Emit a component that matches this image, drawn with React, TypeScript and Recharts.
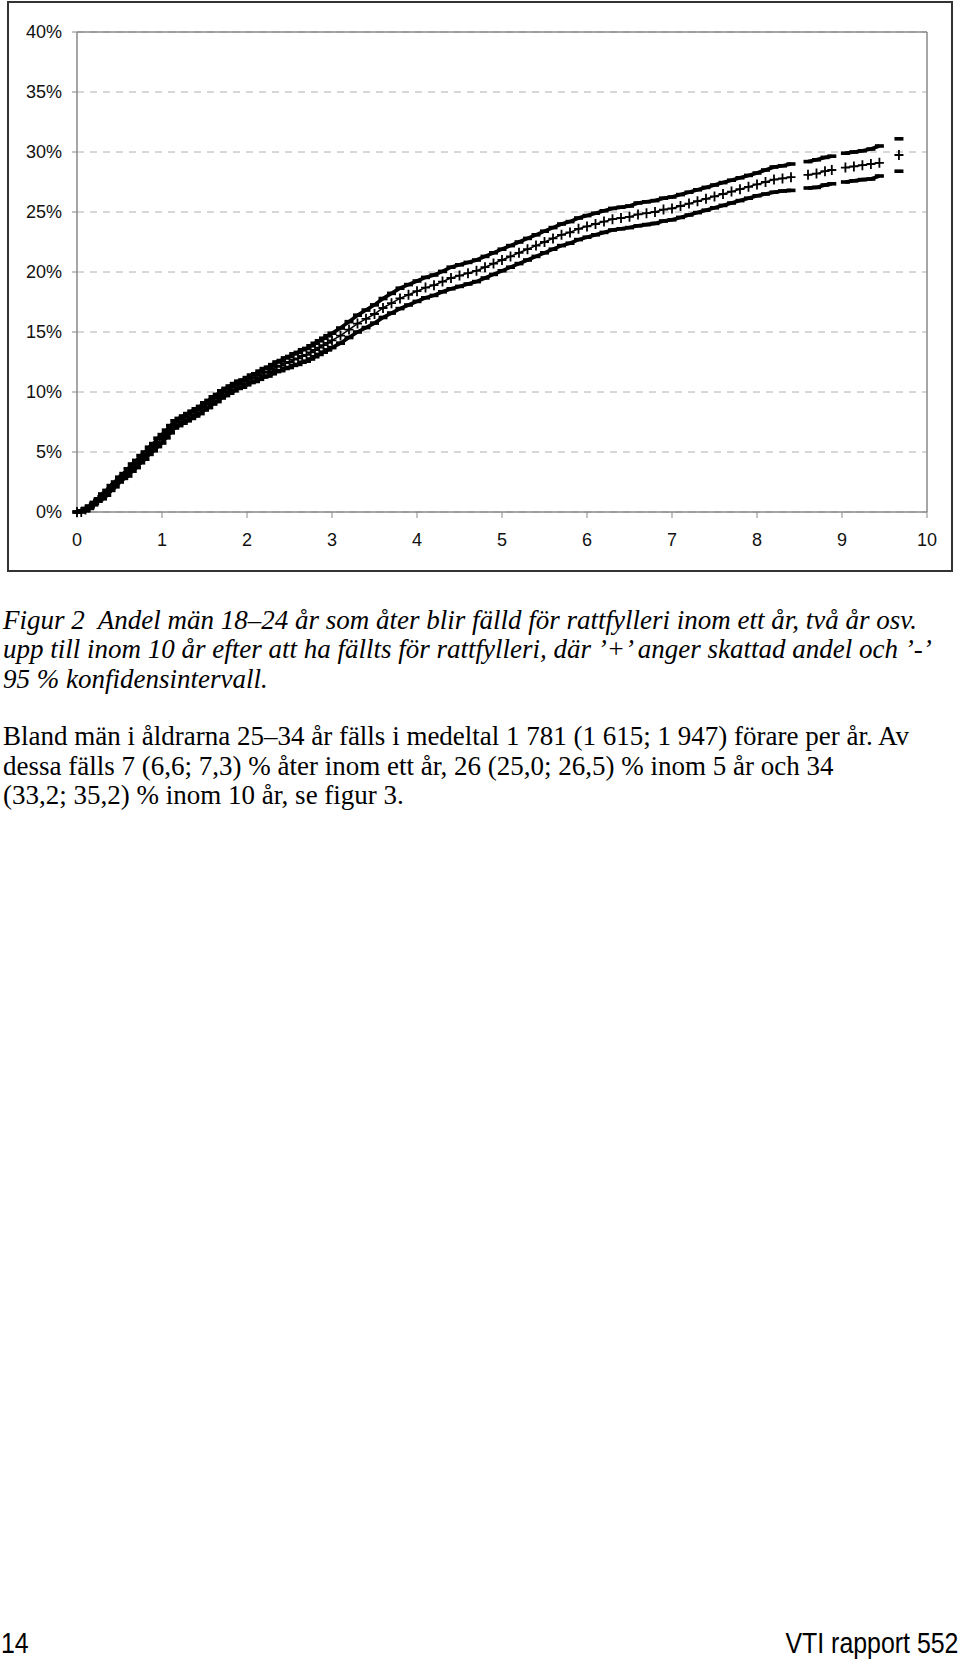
import React from "react";
import {
  ScatterChart,
  Scatter,
  XAxis,
  YAxis,
  CartesianGrid,
  ReferenceLine,
} from "recharts";

// Years since conviction (x values of the plotted points)
const years = [
  0, 0.05, 0.1, 0.15, 0.2, 0.25, 0.3, 0.35, 0.4, 0.45,
  0.5, 0.55, 0.6, 0.65, 0.7, 0.75, 0.8, 0.85, 0.9, 0.95,
  1, 1.05, 1.1, 1.15, 1.2, 1.25, 1.3, 1.35, 1.4, 1.45,
  1.5, 1.55, 1.6, 1.65, 1.7, 1.75, 1.8, 1.85, 1.9, 1.95,
  2, 2.05, 2.1, 2.15, 2.2, 2.25, 2.3, 2.35, 2.4, 2.45,
  2.5, 2.55, 2.6, 2.65, 2.7, 2.75, 2.8, 2.85, 2.9, 2.95,
  3,
  3.1, 3.2, 3.3, 3.4, 3.5, 3.6, 3.7, 3.8, 3.9, 4,
  4.1, 4.2, 4.3, 4.4, 4.5, 4.6, 4.7, 4.8, 4.9, 5,
  5.1, 5.2, 5.3, 5.4, 5.5, 5.6, 5.7, 5.8, 5.9, 6,
  6.1, 6.2, 6.3, 6.4, 6.5, 6.6, 6.7, 6.8, 6.9, 7,
  7.1, 7.2, 7.3, 7.4, 7.5, 7.6, 7.7, 7.8, 7.9, 8,
  8.1, 8.2, 8.3, 8.4,
  8.6, 8.7, 8.8, 8.88, 9.04, 9.14, 9.24, 9.34, 9.44, 9.67,
];

// Estimated share ('+')
const estimate = [
  0.0, 0.0, 0.002, 0.004, 0.007, 0.01, 0.013, 0.016, 0.02, 0.023,
  0.027, 0.03, 0.033, 0.037, 0.04, 0.044, 0.047, 0.051, 0.054, 0.058,
  0.061, 0.065, 0.069, 0.073, 0.075, 0.077, 0.079, 0.081, 0.083, 0.085,
  0.088, 0.09, 0.093, 0.095, 0.098, 0.1, 0.102, 0.104, 0.106, 0.107,
  0.109, 0.111, 0.112, 0.114, 0.116, 0.117, 0.119, 0.121, 0.122, 0.124,
  0.125, 0.127, 0.128, 0.13, 0.131, 0.133, 0.135, 0.137, 0.139, 0.141,
  0.143,
  0.147, 0.152, 0.157, 0.161, 0.165, 0.17, 0.174, 0.178, 0.181, 0.184,
  0.187, 0.189, 0.192, 0.195, 0.197, 0.199, 0.201, 0.204, 0.207, 0.21,
  0.213, 0.216, 0.219, 0.222, 0.225, 0.228, 0.231, 0.233, 0.236, 0.238,
  0.24, 0.242, 0.244, 0.245, 0.246, 0.248, 0.249, 0.25, 0.252, 0.253,
  0.255, 0.257, 0.259, 0.261, 0.263, 0.265, 0.267, 0.269, 0.271, 0.273,
  0.275, 0.277, 0.278, 0.279,
  0.281, 0.282, 0.284, 0.285, 0.287, 0.288, 0.289, 0.29, 0.291, 0.2975,
];

// Lower 95 % confidence bound ('-')
const lower = [
  0.0, 0.0, 0.001, 0.003, 0.006, 0.009, 0.011, 0.014, 0.018, 0.021,
  0.025, 0.028, 0.03, 0.034, 0.037, 0.041, 0.044, 0.048, 0.051, 0.0545,
  0.0575, 0.0618, 0.066, 0.07, 0.072, 0.074, 0.076, 0.078, 0.08, 0.082,
  0.085, 0.087, 0.09, 0.092, 0.095, 0.097, 0.099, 0.101, 0.103, 0.104,
  0.106, 0.1079, 0.1088, 0.1106, 0.1125, 0.1133, 0.1152, 0.117, 0.1178, 0.1196,
  0.1204, 0.1222, 0.123, 0.1248, 0.1257, 0.1275, 0.1294, 0.1313, 0.1332, 0.1351,
  0.137,
  0.1407, 0.1454, 0.15, 0.1537, 0.1574, 0.1621, 0.1658, 0.1695, 0.1725, 0.1755,
  0.1785, 0.1805, 0.1835, 0.186, 0.188, 0.19, 0.192, 0.195, 0.198, 0.201,
  0.204, 0.207, 0.21, 0.213, 0.216, 0.219, 0.222, 0.224, 0.227, 0.229,
  0.231, 0.233, 0.235, 0.236, 0.237, 0.2385, 0.2395, 0.2405, 0.2425, 0.2435,
  0.2455, 0.2475, 0.2495, 0.2515, 0.2535, 0.2555, 0.2575, 0.2595, 0.2615, 0.2635,
  0.265, 0.2665, 0.2675, 0.268,
  0.27, 0.2705, 0.2725, 0.2735, 0.275, 0.276, 0.277, 0.2775, 0.28, 0.284,
];

// Upper 95 % confidence bound ('-')
const upper = [
  0.0, 0.001, 0.003, 0.005, 0.008, 0.011, 0.015, 0.018, 0.022, 0.025,
  0.029, 0.032, 0.036, 0.04, 0.043, 0.047, 0.05, 0.054, 0.057, 0.0615,
  0.0645, 0.0682, 0.072, 0.076, 0.078, 0.08, 0.082, 0.084, 0.086, 0.088,
  0.091, 0.093, 0.096, 0.098, 0.101, 0.103, 0.105, 0.107, 0.109, 0.11,
  0.112, 0.1141, 0.1152, 0.1174, 0.1195, 0.1207, 0.1228, 0.125, 0.1262, 0.1284,
  0.1296, 0.1318, 0.133, 0.1352, 0.1363, 0.1385, 0.1406, 0.1427, 0.1448, 0.1469,
  0.149,
  0.1533, 0.1586, 0.164, 0.1683, 0.1726, 0.1779, 0.1822, 0.1865, 0.1895, 0.1925,
  0.1955, 0.1975, 0.2005, 0.204, 0.206, 0.208, 0.21, 0.213, 0.216, 0.219,
  0.222, 0.225, 0.228, 0.231, 0.234, 0.237, 0.24, 0.242, 0.245, 0.247,
  0.249, 0.251, 0.253, 0.254, 0.255, 0.2575, 0.2585, 0.2595, 0.2615, 0.2625,
  0.2645, 0.2665, 0.2685, 0.2705, 0.2725, 0.2745, 0.2765, 0.2785, 0.2805, 0.2825,
  0.285, 0.2875, 0.2885, 0.29,
  0.292, 0.2935, 0.2955, 0.2965, 0.299, 0.3, 0.301, 0.3025, 0.305, 0.311,
];

// Years after which no observations follow for a while (gaps in the marks)
const gapsAfter = [8.4, 8.88, 9.44];

const xTicks = [0, 1, 2, 3, 4, 5, 6, 7, 8, 9, 10];
const yTicks = [0, 0.05, 0.1, 0.15, 0.2, 0.25, 0.3, 0.35, 0.4];

const captionLines = [
  "Figur 2  Andel män 18–24 år som åter blir fälld för rattfylleri inom ett år, två år osv.",
  "upp till inom 10 år efter att ha fällts för rattfylleri, där ’+’ anger skattad andel och ’-’",
  "95 % konfidensintervall.",
];

const bodyLines = [
  "Bland män i åldrarna 25–34 år fälls i medeltal 1 781 (1 615; 1 947) förare per år. Av",
  "dessa fälls 7 (6,6; 7,3) % åter inom ett år, 26 (25,0; 26,5) % inom 5 år och 34",
  "(33,2; 35,2) % inom 10 år, se figur 3.",
];

const pageNumber = "14";
const reportName = "VTI rapport 552";

// split into continuous runs of observations
const segmentOf = (t: number) => gapsAfter.filter((g) => t > g).length;
const segmentIds = Array.from(new Set(years.map(segmentOf)));

const buildSegments = (values: number[]) =>
  segmentIds.map((s) =>
    years
      .map((t, i) => ({ t, v: values[i] }))
      .filter((p) => segmentOf(p.t) === s)
  );

const estSegments = buildSegments(estimate);
const lowSegments = buildSegments(lower);
const highSegments = buildSegments(upper);

const PlusMark = (props: any) => {
  const { cx, cy } = props;
  if (cx == null || cy == null) return null;
  return (
    <path
      d={`M${cx - 4.5},${cy}H${cx + 4.5}M${cx},${cy - 5}V${cy + 5}`}
      stroke="#000"
      strokeWidth={1.8}
      fill="none"
    />
  );
};

const DashMark = (props: any) => {
  const { cx, cy } = props;
  if (cx == null || cy == null) return null;
  return <rect x={cx - 4.5} y={cy - 1.8} width={9} height={3.6} fill="#000" />;
};

const tickStyle = { fontFamily: "'Liberation Sans', Arial, sans-serif", fontSize: 18, fill: "#111" };

const serifFont = "'Liberation Serif', 'Times New Roman', serif";
const sansFont = "'Liberation Sans', Arial, sans-serif";

export default function App() {
  return (
    <div style={{ position: "relative", width: 960, height: 1659, background: "#fff", overflow: "hidden" }}>
      <style>{"body{margin:0;}"}</style>
      <div
        style={{
          position: "absolute",
          left: 7,
          top: 1,
          width: 946,
          height: 571,
          border: "2px solid #333",
          boxSizing: "border-box",
        }}
      />
      <div style={{ position: "absolute", left: 0, top: 0 }}>
        <ScatterChart
          width={960}
          height={580}
          margin={{ top: 32, right: 33, left: 8, bottom: 28 }}
        >
          <CartesianGrid vertical={false} stroke="#b0b0b0" strokeDasharray="7 6" />
          <XAxis
            type="number"
            dataKey="t"
            domain={[0, 10]}
            ticks={xTicks}
            interval={0}
            height={40}
            tickSize={6}
            tickMargin={15}
            axisLine={{ stroke: "#888", strokeWidth: 1.5 }}
            tickLine={{ stroke: "#888" }}
            tick={tickStyle}
          />
          <YAxis
            type="number"
            dataKey="v"
            domain={[0, 0.4]}
            ticks={yTicks}
            interval={0}
            width={69}
            tickSize={5}
            tickMargin={10}
            axisLine={{ stroke: "#888", strokeWidth: 1.5 }}
            tickLine={{ stroke: "#888" }}
            tick={tickStyle}
            tickFormatter={(v: number) => `${Math.round(v * 100)}%`}
          />
          <ReferenceLine y={0.4} stroke="#888" strokeWidth={1.5} />
          <ReferenceLine x={10} stroke="#888" strokeWidth={1.5} />
          {highSegments.map((seg, i) => (
            <Scatter
              key={`hi${i}`}
              data={seg}
              shape={DashMark}
              line={{ stroke: "#000", strokeWidth: 3.6 }}
              lineType="joint"
              isAnimationActive={false}
            />
          ))}
          {lowSegments.map((seg, i) => (
            <Scatter
              key={`lo${i}`}
              data={seg}
              shape={DashMark}
              line={{ stroke: "#000", strokeWidth: 3.6 }}
              lineType="joint"
              isAnimationActive={false}
            />
          ))}
          {estSegments.map((seg, i) => (
            <Scatter
              key={`est${i}`}
              data={seg}
              shape={PlusMark}
              line={{ stroke: "#000", strokeWidth: 1.5 }}
              lineType="joint"
              isAnimationActive={false}
            />
          ))}
        </ScatterChart>
      </div>

      <div
        style={{
          position: "absolute",
          left: 3,
          top: 605.5,
          fontFamily: serifFont,
          fontStyle: "italic",
          fontSize: 27,
          lineHeight: "29.5px",
          color: "#000",
          whiteSpace: "pre",
        }}
      >
        {captionLines.map((l, i) => (
          <div key={i}>{l}</div>
        ))}
      </div>

      <div
        style={{
          position: "absolute",
          left: 3,
          top: 722,
          fontFamily: serifFont,
          fontSize: 27,
          lineHeight: "29.6px",
          color: "#000",
          whiteSpace: "pre",
        }}
      >
        {bodyLines.map((l, i) => (
          <div key={i}>{l}</div>
        ))}
      </div>

      <div
        style={{
          position: "absolute",
          left: 1,
          top: 1628,
          fontFamily: sansFont,
          fontSize: 30,
          lineHeight: "30px",
          color: "#000",
          whiteSpace: "pre",
          transform: "scaleX(0.83)",
          transformOrigin: "left center",
        }}
      >
        {pageNumber}
      </div>
      <div
        style={{
          position: "absolute",
          right: 2,
          top: 1628,
          fontFamily: sansFont,
          fontSize: 30,
          lineHeight: "30px",
          color: "#000",
          whiteSpace: "pre",
          transform: "scaleX(0.83)",
          transformOrigin: "right center",
        }}
      >
        {reportName}
      </div>
    </div>
  );
}
